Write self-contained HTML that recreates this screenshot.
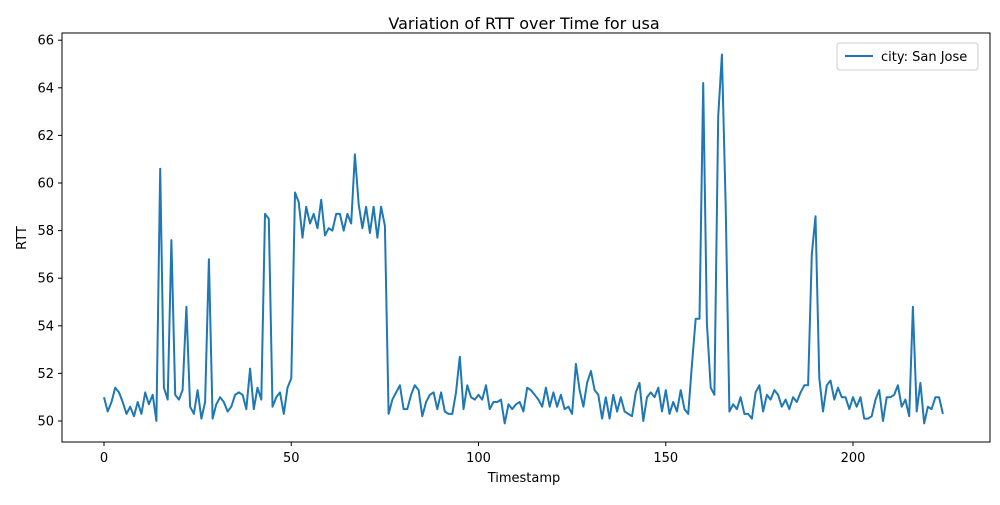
<!DOCTYPE html>
<html><head><meta charset="utf-8"><style>
body{margin:0;background:#fff;font-family:"Liberation Sans","DejaVu Sans",sans-serif}
svg text{font-family:"DejaVu Sans","Liberation Sans",sans-serif;fill:#000}
</style></head><body>
<svg id="chart" width="1000" height="500" viewBox="0 0 1000 500" xmlns="http://www.w3.org/2000/svg">
<rect width="1000" height="500" fill="#fff"/>
<text x="524" y="29" font-size="16" text-anchor="middle">Variation of RTT over Time for usa</text>
<g id="xt"></g><g id="yt"></g>
<polyline id="line" fill="none" stroke="#1f77b4" stroke-width="2" stroke-linejoin="round"/>
<rect x="62" y="33" width="928" height="409" fill="none" stroke="#000" stroke-width="1"/>
<text x="524" y="482" font-size="13" text-anchor="middle">Timestamp</text>
<text x="26" y="238" font-size="13" text-anchor="middle" transform="rotate(-90 26 238)">RTT</text>
<g>
<rect x="837" y="43" width="141" height="27" rx="3" fill="#fff" stroke="#ccc"/>
<line x1="845" y1="56" x2="873" y2="56" stroke="#1f77b4" stroke-width="2"/>
<text x="881" y="61" font-size="13">city: San Jose</text>
</g>
</svg>
<script>
const rtt=[51.0,50.4,50.8,51.4,51.2,50.8,50.3,50.6,50.2,50.8,50.3,51.2,50.7,51.1,50.0,60.6,51.4,50.9,57.6,51.1,50.9,51.3,54.8,50.6,50.3,51.3,50.1,50.8,56.8,50.1,50.7,51.0,50.8,50.4,50.6,51.1,51.2,51.1,50.5,52.2,50.5,51.4,50.9,58.7,58.5,50.6,51.0,51.2,50.3,51.4,51.8,59.6,59.2,57.7,59.0,58.3,58.7,58.1,59.3,57.8,58.1,58.0,58.7,58.7,58.0,58.7,58.3,61.2,59.1,58.1,59.0,57.9,59.0,57.7,59.0,58.2,50.3,50.9,51.2,51.5,50.5,50.5,51.1,51.5,51.3,50.2,50.8,51.1,51.2,50.5,51.2,50.4,50.3,50.3,51.2,52.7,50.5,51.5,51.0,50.9,51.1,50.9,51.5,50.5,50.8,50.8,50.9,49.9,50.7,50.5,50.7,50.8,50.4,51.4,51.3,51.1,50.9,50.6,51.4,50.6,51.2,50.6,51.1,50.5,50.6,50.3,52.4,51.3,50.6,51.6,52.1,51.3,51.1,50.1,51.0,50.1,51.1,50.4,51.0,50.4,50.3,50.2,51.2,51.6,50.0,51.0,51.2,51.0,51.4,50.4,51.3,50.3,50.8,50.4,51.3,50.5,50.3,52.4,54.3,54.3,64.2,54.1,51.4,51.1,62.8,65.4,59.0,50.4,50.7,50.5,51.0,50.3,50.3,50.1,51.2,51.5,50.4,51.1,50.9,51.3,51.1,50.6,50.9,50.5,51.0,50.8,51.2,51.5,51.5,57.0,58.6,51.8,50.4,51.5,51.7,50.9,51.4,51.0,51.0,50.5,51.0,50.6,51.0,50.1,50.1,50.2,50.9,51.3,50.0,51.0,51.0,51.1,51.5,50.6,50.9,50.2,54.8,50.4,51.6,49.9,50.6,50.5,51.0,51.0,50.3];
const xTicks=[0,50,100,150,200];
const yTicks=[50,52,54,56,58,60,62,64,66];
const X=v=>104+v*(853-104)/200;
const Y=v=>421-(v-50)*(421-40.2)/16;
const ns="http://www.w3.org/2000/svg";
document.getElementById('line').setAttribute('points',rtt.map((v,i)=>X(i).toFixed(1)+','+Y(v).toFixed(1)).join(' '));
const xt=document.getElementById('xt'),yt=document.getElementById('yt');
xTicks.forEach(t=>{
 const l=document.createElementNS(ns,'line');
 
 
 l.setAttribute('x1',X(t));l.setAttribute('x2',X(t));l.setAttribute('y1',442);l.setAttribute('y2',446);l.setAttribute('stroke','#000');
 xt.appendChild(l);
 const s=document.createElementNS(ns,'text');
 
 
 s.setAttribute('x',X(t));s.setAttribute('y',462);s.setAttribute('font-size','13');s.setAttribute('text-anchor','middle');
 s.textContent=t;xt.appendChild(s);
});
yTicks.forEach(t=>{
 const l=document.createElementNS(ns,'line');
 
 
 l.setAttribute('x1',58);l.setAttribute('x2',62);l.setAttribute('y1',Y(t));l.setAttribute('y2',Y(t));l.setAttribute('stroke','#000');
 yt.appendChild(l);
 const s=document.createElementNS(ns,'text');
 
 
 s.setAttribute('x',54);s.setAttribute('y',Y(t)+4.5);s.setAttribute('font-size','13');s.setAttribute('text-anchor','end');
 s.textContent=t;yt.appendChild(s);
});
</script>
</body></html>
